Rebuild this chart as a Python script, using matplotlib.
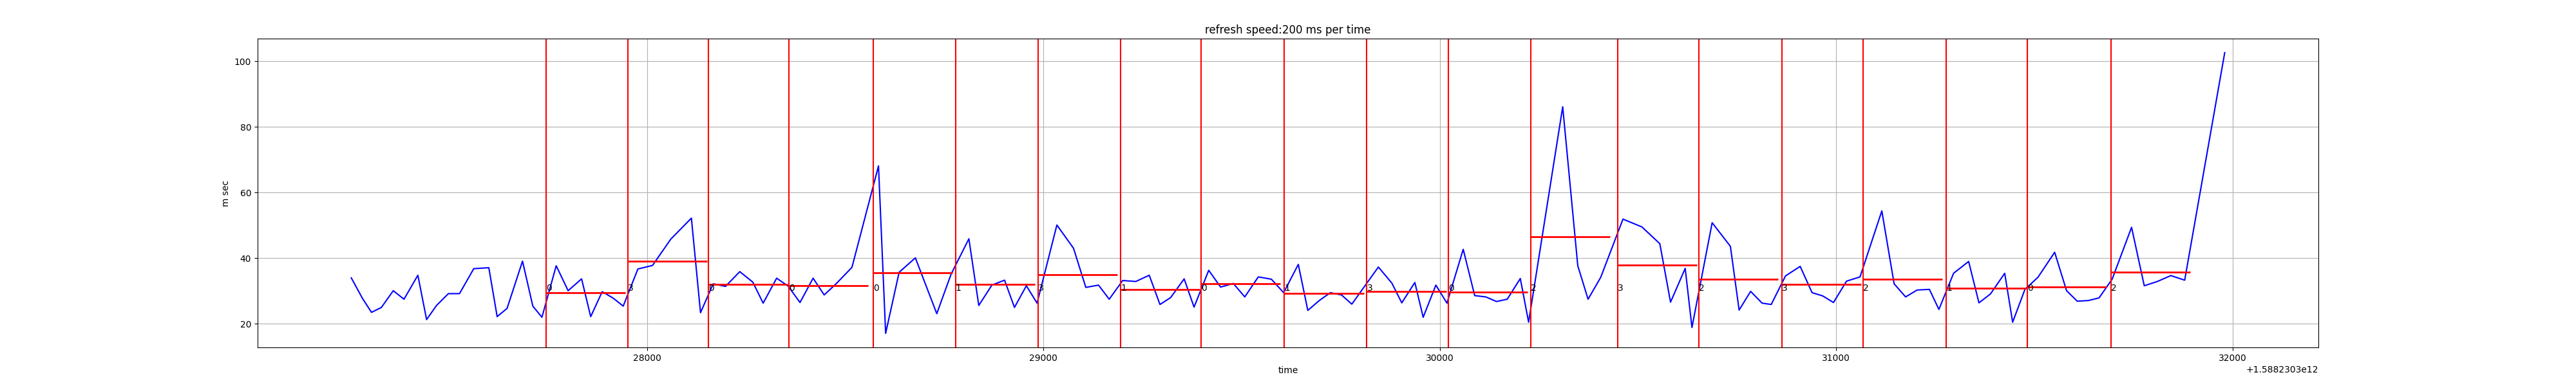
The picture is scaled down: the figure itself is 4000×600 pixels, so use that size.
import numpy as np
import matplotlib
matplotlib.use('Agg')
import matplotlib.pyplot as plt

# time stamps are epoch ms, stored as offset from base
base = 1588230300000

t_rel = [27254, 27282, 27305, 27330, 27360, 27387, 27422, 27444, 27469, 27499,
         27527, 27563, 27601, 27622, 27647, 27686, 27712, 27735, 27771, 27801,
         27835, 27858, 27887, 27915, 27940, 27977, 28014, 28060, 28112, 28135,
         28167, 28198, 28234, 28267, 28293, 28327, 28356, 28386, 28419, 28447,
         28477, 28517, 28584, 28602, 28636, 28677, 28731, 28767, 28812, 28837,
         28870, 28902, 28927, 28957, 28984, 29034, 29076, 29107, 29139, 29166,
         29200, 29233, 29267, 29294, 29321, 29355, 29380, 29417, 29447, 29479,
         29508, 29542, 29575, 29606, 29643, 29667, 29697, 29724, 29752, 29778,
         29845, 29879, 29904, 29937, 29958, 29990, 30018, 30059, 30088, 30116,
         30143, 30170, 30203, 30224, 30310, 30348, 30374, 30406, 30462, 30510,
         30555, 30582, 30619, 30636, 30687, 30733, 30755, 30784, 30813, 30836,
         30872, 30909, 30939, 30966, 30993, 31026, 31060, 31115, 31146, 31175,
         31204, 31235, 31259, 31296, 31334, 31360, 31389, 31425, 31445, 31476,
         31509, 31551, 31581, 31608, 31636, 31663, 31696, 31745, 31777, 31810,
         31844, 31879, 31980]

ms = [34.0, 27.8, 23.5, 25.0, 30.1, 27.5, 34.8, 21.3, 25.6, 29.2,
      29.2, 36.8, 37.1, 22.2, 24.7, 39.1, 25.4, 22.0, 37.7, 30.1,
      33.7, 22.2, 29.8, 27.8, 25.4, 36.7, 37.8, 45.8, 52.2, 23.4,
      32.2, 31.4, 35.9, 32.7, 26.3, 33.9, 31.5, 26.5, 33.9, 28.8,
      32.2, 37.2, 68.1, 17.1, 35.7, 40.1, 23.1, 35.1, 45.9, 25.6,
      31.8, 33.3, 25.0, 31.6, 26.3, 50.1, 43.0, 31.1, 31.8, 27.5,
      33.2, 32.9, 34.8, 25.9, 28.0, 33.7, 25.1, 36.3, 31.2, 32.3,
      28.2, 34.3, 33.6, 29.5, 38.1, 24.1, 27.2, 29.5, 28.8, 26.0,
      37.3, 32.4, 26.4, 32.6, 22.0, 31.8, 26.3, 42.7, 28.6, 28.2,
      26.8, 27.5, 33.8, 20.5, 86.1, 37.7, 27.5, 34.2, 51.9, 49.5,
      44.4, 26.6, 36.9, 18.9, 50.8, 43.6, 24.2, 29.9, 26.3, 25.9,
      34.6, 37.5, 29.5, 28.5, 26.5, 33.0, 34.3, 54.4, 32.2, 28.2,
      30.3, 30.5, 24.4, 35.4, 39.0, 26.4, 29.1, 35.4, 20.5, 30.5,
      34.2, 41.8, 30.1, 26.9, 27.1, 27.9, 33.6, 49.4, 31.6, 32.9,
      34.7, 33.3, 102.6]

# refresh events: start time, label, mean over the 200 ms window
ev_rel = [27746, 27952, 28155, 28358, 28571, 28778, 28986, 29195, 29398, 29608,
          29816, 30021, 30230, 30448, 30653, 30863, 31068, 31278, 31482, 31693]
ev_label = ['0', '3', '0', '0', '0', '1', '3', '1', '0', '1',
            '3', '0', '2', '3', '2', '3', '2', '1', '0', '2']
ev_mean = [29.5, 39.1, 32.0, 31.7, 35.6, 32.0, 35.0, 30.5, 32.2, 29.2,
           29.9, 29.7, 46.5, 37.9, 33.5, 32.0, 33.5, 30.9, 31.3, 35.75]
window = 200

t = base + np.array(t_rel, dtype=np.float64)
ev = base + np.array(ev_rel, dtype=np.float64)

fig = plt.figure(figsize=(40, 6), dpi=100)
ax = fig.add_axes([0.1, 0.1, 0.8, 0.8])
ax.plot(t, ms, color='b')
for x, lab, m in zip(ev, ev_label, ev_mean):
    ax.axvline(x, color='r', lw=1.5)
    ax.hlines(m, x, x + window, colors='r', lw=2)
    ax.text(x, 30, lab)

ax.grid(True)
ax.set_title('refresh speed:200 ms per time')
ax.set_xlabel('time')
ax.set_ylabel('m sec')

fig.savefig('out.png', dpi=100)
